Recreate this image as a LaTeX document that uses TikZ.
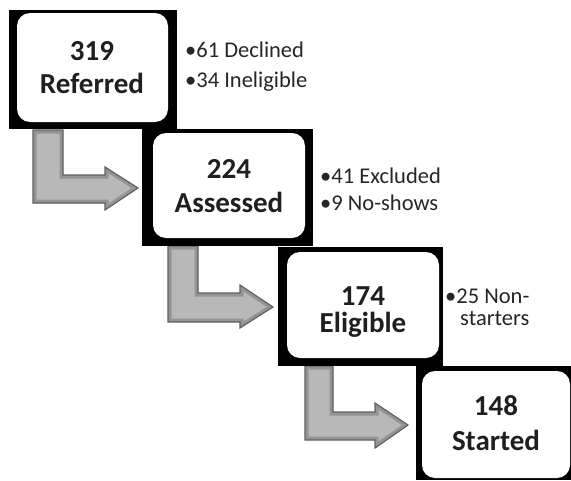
\documentclass[tikz,border=0pt]{standalone}
\usepackage{fontspec}
\setmainfont{Carlito}
\begin{document}
\begin{tikzpicture}[x=1pt,y=-1pt,
  shadowbox/.style={fill=black,draw=none},
  whitebox/.style={fill=white,draw=none,rounded corners=13pt},
  boxtext/.style={font=\bfseries\fontsize{29}{34}\selectfont,anchor=base,text=black!88,inner sep=0pt},
  sidetext/.style={font=\fontsize{22.5}{26}\selectfont,anchor=base west,text=black!85,inner sep=0pt},
  arrowfill/.style={fill=black!28,draw=none},
  arrowbevel/.style={draw=black!42,line width=7pt,line join=miter},
  arrowedge/.style={draw=black!62,line width=1.2pt,line join=miter}
]
\useasboundingbox (0,0) rectangle (571,480);
% arrows
\def\arrA{(33,130) -- (63,130) -- (63,175) -- (105,175) -- (105,167) -- (138,188) -- (105,210) -- (105,203) -- (33,203) -- cycle}
\def\arrB{(168,246) -- (198,246) -- (198,293) -- (240,293) -- (240,285) -- (273,307) -- (240,328) -- (240,322) -- (168,322) -- cycle}
\def\arrC{(305,366) -- (333,366) -- (333,412) -- (375,412) -- (375,403) -- (408,425) -- (375,448) -- (375,440) -- (305,440) -- cycle}
\foreach \p in {\arrA,\arrB,\arrC}{
  \fill[arrowfill] \p;
  \begin{scope}
    \clip \p;
    \draw[arrowbevel] \p;
  \end{scope}
  \draw[arrowedge] \p;
}
% box 1
\fill[shadowbox] (9,10) rectangle (177,129);
\fill[whitebox] (17,13) rectangle (168,122);
\node[boxtext] (n1) at (92,60) {319};
\node[boxtext] (l1) at (92,93) {Referred};
\node[sidetext] (s1a) at (185,57) {•61 Declined};
\node[sidetext] (s1b) at (185,87) {•34 Ineligible};
% box 2
\fill[shadowbox] (142,129) rectangle (313,246);
\fill[whitebox] (153,133) rectangle (305,238);
\node[boxtext] (n2) at (229,178) {224};
\node[boxtext] (l2) at (229,212) {Assessed};
\node[sidetext] (s2a) at (320,183) {•41 Excluded};
\node[sidetext] (s2b) at (320,210) {•9 No-shows};
% box 3
\fill[shadowbox] (278,247) rectangle (443,366);
\fill[whitebox] (287,252) rectangle (439,358);
\node[boxtext] (n3) at (363,305) {174};
\node[boxtext] (l3) at (363,332) {Eligible};
\node[sidetext] (s3a) at (445,303) {•25 Non-};
\node[sidetext] (s3b) at (460,325) {starters};
% box 4
\fill[shadowbox] (416,366) rectangle (571,480);
\fill[whitebox] (422,371) rectangle (570,478);
\node[boxtext] (n4) at (496,415) {148};
\node[boxtext] (l4) at (496,450) {Started};
\end{tikzpicture}
\end{document}
